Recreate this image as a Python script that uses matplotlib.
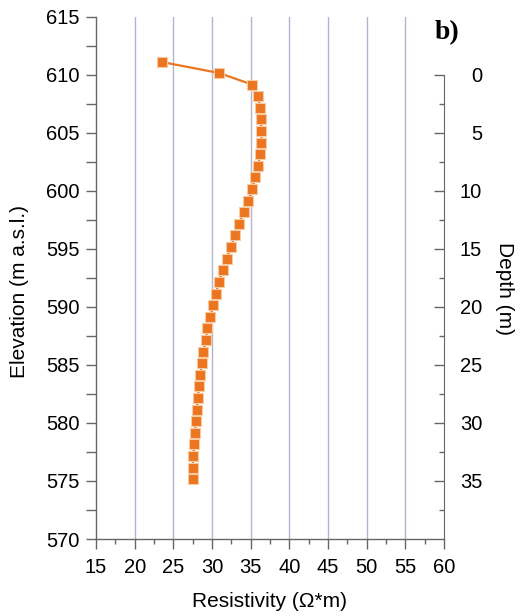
import matplotlib
matplotlib.use("Agg")
import matplotlib.pyplot as plt
from matplotlib.ticker import MultipleLocator, FixedLocator

plt.rcParams['font.family'] = ['Liberation Sans', 'DejaVu Sans']

resistivity = [23.5, 30.9, 35.2, 36.0, 36.2, 36.3, 36.4, 36.4, 36.2, 36.0, 35.6, 35.2,
               34.7, 34.1, 33.5, 33.0, 32.4, 31.9, 31.4, 30.9, 30.5, 30.1, 29.8, 29.4,
               29.2, 28.9, 28.7, 28.5, 28.3, 28.2, 28.0, 27.9, 27.8, 27.7, 27.6, 27.5, 27.5]
elevation = [611.1, 610.15, 609.15, 608.15, 607.15, 606.15, 605.15, 604.15, 603.15,
             602.15, 601.15, 600.15, 599.15, 598.15, 597.15, 596.15, 595.15, 594.15,
             593.15, 592.15, 591.15, 590.15, 589.15, 588.15, 587.15, 586.15, 585.15,
             584.15, 583.15, 582.15, 581.15, 580.15, 579.15, 578.15, 577.15, 576.15, 575.15]
x_ticks = [15, 20, 25, 30, 35, 40, 45, 50, 55, 60]
elev_ticks = [570, 575, 580, 585, 590, 595, 600, 605, 610, 615]
depth_ticks = [0, 5, 10, 15, 20, 25, 30, 35]

W, H = 520, 616
fig = plt.figure(figsize=(W/100, H/100), dpi=100)
ax = fig.add_axes([96/W, 1-539/H, (444-96)/W, (539-16.7)/H])

spine_c = '#666666'
orange = '#EC7520'

ax.set_xlim(15, 60)
ax.set_ylim(570, 615)
ax.set_xticks(x_ticks)
ax.set_yticks(elev_ticks)
ax.xaxis.set_minor_locator(MultipleLocator(2.5))
ax.yaxis.set_minor_locator(MultipleLocator(2.5))
for xv in x_ticks[1:-1]:
    ax.axvline(xv, color='#B4B4CC', lw=1.0, zorder=0)

ax.spines['top'].set_visible(False)
ax.spines['right'].set_visible(False)
for s in ['left', 'bottom']:
    ax.spines[s].set_color(spine_c)
    ax.spines[s].set_linewidth(1.0)
ax.tick_params(which='major', direction='out', length=7, width=1, color=spine_c,
               labelsize=14.5)
ax.tick_params(axis='x', which='major', pad=6.5)
ax.tick_params(axis='y', which='major', pad=5)
ax.tick_params(which='minor', direction='out', length=3.5, width=1, color=spine_c)
ax.tick_params(axis='y', which='minor', length=7)

ax.plot(resistivity, elevation, '-', color=orange, lw=1.6, marker='s', ms=6.8,
        mfc=orange, mec='#F7CBA2', mew=0.8, zorder=3, clip_on=False)

ax.set_xlabel('Resistivity (Ω*m)', fontsize=15)
ax.xaxis.label.set_va('center')
ax.xaxis.set_label_coords(0.5, -0.119)
ax.set_ylabel('Elevation (m a.s.l.)', fontsize=15)
ax.yaxis.label.set_va('center')
ax.yaxis.set_label_coords(-0.22, 0.473)

ax2 = ax.twinx()
ax2.set_ylim(40, -5)
for s in ['top', 'left', 'bottom']:
    ax2.spines[s].set_visible(False)
ax2.spines['right'].set_bounds(0, 40)
ax2.spines['right'].set_color(spine_c)
ax2.set_yticks(depth_ticks)
ax2.yaxis.set_minor_locator(FixedLocator([2.5 + 5*i for i in range(8)]))
ax2.tick_params(which='major', direction='in', length=7, width=1, color=spine_c,
                labelsize=14.5, pad=27.5)
ax2.tick_params(which='minor', direction='in', length=3.5, width=1, color=spine_c)
for lab in ax2.get_yticklabels():
    lab.set_horizontalalignment('right')
ax2.set_ylabel('Depth (m)', fontsize=15, rotation=-90)
ax2.yaxis.label.set_va('center')
ax2.yaxis.set_label_coords(1.175, 0.48)

fig.text(447/W, 1-33/H, 'b)', fontsize=20, fontweight='bold',
         family=['Liberation Serif', 'DejaVu Serif'], ha='center', va='center')

fig.savefig('out.png', dpi=100)
